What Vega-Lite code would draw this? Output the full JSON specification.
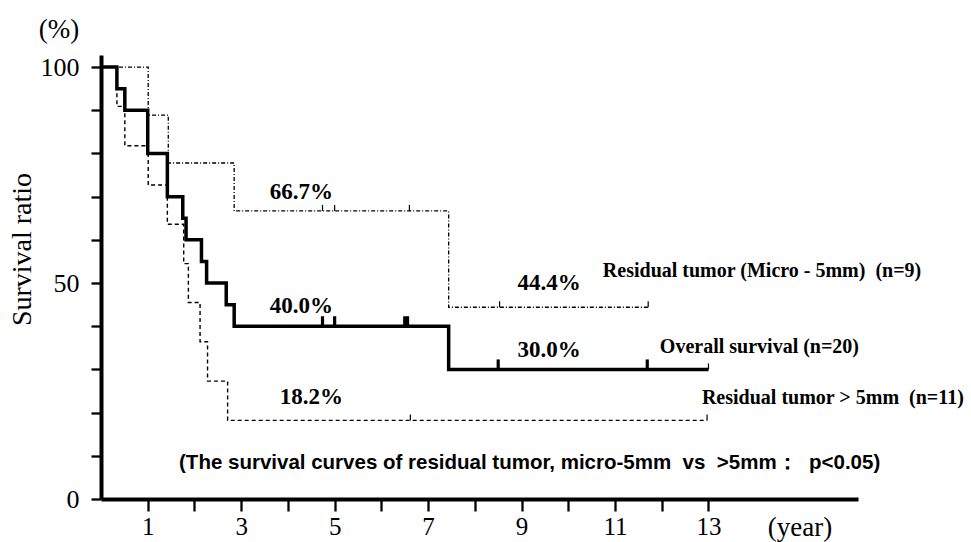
{
  "$schema": "https://vega.github.io/schema/vega-lite/v6.json",
  "width": 757,
  "height": 444,
  "autosize": {"type": "none"},
  "padding": {"left": 101, "top": 55, "right": 113, "bottom": 43},
  "background": "white",
  "config": {"view": {"stroke": null}},
  "datasets": {
    "curves": [
      {"series": "overall", "t": 0, "s": 100},
      {"series": "overall", "t": 0.34, "s": 95},
      {"series": "overall", "t": 0.51, "s": 90},
      {"series": "overall", "t": 1.0, "s": 80},
      {"series": "overall", "t": 1.42, "s": 70},
      {"series": "overall", "t": 1.75, "s": 65},
      {"series": "overall", "t": 1.82, "s": 60},
      {"series": "overall", "t": 2.15, "s": 55},
      {"series": "overall", "t": 2.26, "s": 50},
      {"series": "overall", "t": 2.68, "s": 45},
      {"series": "overall", "t": 2.85, "s": 40},
      {"series": "overall", "t": 7.44, "s": 30},
      {"series": "overall", "t": 13.0, "s": 30},
      {"series": "micro", "t": 0, "s": 100},
      {"series": "micro", "t": 1.01, "s": 88.9},
      {"series": "micro", "t": 1.44, "s": 77.8},
      {"series": "micro", "t": 2.85, "s": 66.7},
      {"series": "micro", "t": 7.44, "s": 44.4},
      {"series": "micro", "t": 11.71, "s": 44.4},
      {"series": "gt5", "t": 0, "s": 100},
      {"series": "gt5", "t": 0.34, "s": 90.9},
      {"series": "gt5", "t": 0.51, "s": 81.8},
      {"series": "gt5", "t": 1.01, "s": 72.7},
      {"series": "gt5", "t": 1.42, "s": 63.6},
      {"series": "gt5", "t": 1.77, "s": 54.5},
      {"series": "gt5", "t": 1.87, "s": 45.5},
      {"series": "gt5", "t": 2.12, "s": 36.4},
      {"series": "gt5", "t": 2.28, "s": 27.3},
      {"series": "gt5", "t": 2.71, "s": 18.2},
      {"series": "gt5", "t": 12.97, "s": 18.2}
    ],
    "censor": [
      {"series": "overall", "t": 4.74, "s": 40},
      {"series": "overall", "t": 5.0, "s": 40},
      {"series": "overall", "t": 6.5, "s": 40},
      {"series": "overall", "t": 6.56, "s": 40},
      {"series": "overall", "t": 8.5, "s": 30},
      {"series": "overall", "t": 11.69, "s": 30},
      {"series": "micro", "t": 4.74, "s": 66.7},
      {"series": "micro", "t": 5.0, "s": 66.7},
      {"series": "micro", "t": 6.6, "s": 66.7},
      {"series": "micro", "t": 8.53, "s": 44.4},
      {"series": "micro", "t": 11.71, "s": 44.4},
      {"series": "gt5", "t": 6.62, "s": 18.2},
      {"series": "gt5", "t": 12.97, "s": 18.2},
      {"series": "overall", "t": 13.0, "s": 30}
    ],
    "pct": [
      {"t": 4.29, "s": 71.1, "label": "66.7%"},
      {"t": 4.29, "s": 44.6, "label": "40.0%"},
      {"t": 4.5, "s": 23.6, "label": "18.2%"},
      {"t": 9.59, "s": 50.1, "label": "44.4%"},
      {"t": 9.59, "s": 34.5, "label": "30.0%"}
    ],
    "legend": [
      {"t": 10.74, "s": 52.9, "label": "Residual tumor (Micro - 5mm)\u00a0 (n=9)"},
      {"t": 11.96, "s": 35.3, "label": "Overall survival (n=20)"},
      {"t": 12.86, "s": 23.3, "label": "Residual tumor > 5mm\u00a0 (n=11)"}
    ],
    "note": [
      {"t": 1.67, "s": 8.3, "label": "(The survival curves of residual tumor, micro-5mm\u00a0 vs\u00a0 >5mm：\u00a0 p<0.05)"}
    ],
    "units": [
      {"t": -0.9, "s": 108.5, "label": "(%)"},
      {"t": 14.96, "s": -6.6, "label": "(year)"}
    ]
  },
  "layer": [
    {
      "data": {"name": "curves"},
      "transform": [{"filter": "datum.series === 'micro'"}],
      "mark": {"type": "line", "interpolate": "step-after", "color": "black", "strokeWidth": 1.3, "strokeDash": [4, 2, 1, 2]},
      "encoding": {
        "x": {
          "field": "t", "type": "quantitative",
          "scale": {"domain": [0, 16.2], "nice": false, "zero": false},
          "axis": {
            "values": [1, 2, 3, 4, 5, 6, 7, 8, 9, 10, 11, 12, 13],
            "labelExpr": "datum.value % 2 === 1 ? datum.label : ''",
            "title": null, "grid": false,
            "domainColor": "black", "domainWidth": 4,
            "tickColor": "black", "tickWidth": 2.3, "tickSize": 12,
            "labelFont": "Liberation Serif", "labelFontSize": 25, "labelColor": "black",
            "labelPadding": 3, "labelFlush": false, "labelOverlap": false
          }
        },
        "y": {
          "field": "s", "type": "quantitative",
          "scale": {"domain": [0, 102.8], "nice": false},
          "axis": {
            "values": [0, 10, 20, 30, 40, 50, 60, 70, 80, 90, 100],
            "labelExpr": "datum.value % 50 === 0 ? datum.label : ''",
            "title": "Survival ratio",
            "titleFont": "Liberation Serif", "titleFontSize": 28, "titleFontWeight": "normal", "titleColor": "black",
            "titleX": -79, "titleY": 194, "titleAngle": -90, "titleAlign": "center", "titleBaseline": "middle",
            "grid": false,
            "domainColor": "black", "domainWidth": 4,
            "tickColor": "black", "tickWidth": 2.3, "tickSize": 10,
            "labelFont": "Liberation Serif", "labelFontSize": 26, "labelColor": "black",
            "labelPadding": 12, "labelFlush": false, "labelOverlap": false
          }
        }
      }
    },
    {
      "data": {"name": "curves"},
      "transform": [{"filter": "datum.series === 'gt5'"}],
      "mark": {"type": "line", "interpolate": "step-after", "color": "black", "strokeWidth": 1.4, "strokeDash": [4, 3]},
      "encoding": {"x": {"field": "t", "type": "quantitative"}, "y": {"field": "s", "type": "quantitative"}}
    },
    {
      "data": {"name": "curves"},
      "transform": [{"filter": "datum.series === 'overall'"}],
      "mark": {"type": "line", "interpolate": "step-after", "color": "black", "strokeWidth": 3.5},
      "encoding": {"x": {"field": "t", "type": "quantitative"}, "y": {"field": "s", "type": "quantitative"}}
    },
    {
      "data": {"name": "censor"},
      "transform": [{"filter": "datum.series === 'overall' && datum.t < 12.9"}],
      "mark": {"type": "tick", "orient": "vertical", "color": "black", "size": 10, "thickness": 3.2, "yOffset": -5, "opacity": 1},
      "encoding": {"x": {"field": "t", "type": "quantitative"}, "y": {"field": "s", "type": "quantitative"}}
    },
    {
      "data": {"name": "censor"},
      "transform": [{"filter": "datum.series !== 'overall' || datum.t > 12.9"}],
      "mark": {"type": "tick", "orient": "vertical", "color": "black", "size": 6, "thickness": 1.2, "yOffset": -3, "opacity": 1},
      "encoding": {"x": {"field": "t", "type": "quantitative"}, "y": {"field": "s", "type": "quantitative"}}
    },
    {
      "data": {"name": "pct"},
      "mark": {"type": "text", "font": "Liberation Serif", "fontSize": 23, "fontWeight": "bold", "color": "black", "align": "center", "baseline": "middle"},
      "encoding": {"x": {"field": "t", "type": "quantitative"}, "y": {"field": "s", "type": "quantitative"}, "text": {"field": "label"}}
    },
    {
      "data": {"name": "legend"},
      "mark": {"type": "text", "font": "Liberation Serif", "fontSize": 20, "fontWeight": "bold", "color": "black", "align": "left", "baseline": "middle"},
      "encoding": {"x": {"field": "t", "type": "quantitative"}, "y": {"field": "s", "type": "quantitative"}, "text": {"field": "label"}}
    },
    {
      "data": {"name": "note"},
      "mark": {"type": "text", "font": "Liberation Sans", "fontSize": 20.5, "fontWeight": "bold", "color": "black", "align": "left", "baseline": "middle"},
      "encoding": {"x": {"field": "t", "type": "quantitative"}, "y": {"field": "s", "type": "quantitative"}, "text": {"field": "label"}}
    },
    {
      "data": {"name": "units"},
      "mark": {"type": "text", "font": "Liberation Serif", "fontSize": 27, "color": "black", "align": "center", "baseline": "middle"},
      "encoding": {"x": {"field": "t", "type": "quantitative"}, "y": {"field": "s", "type": "quantitative"}, "text": {"field": "label"}}
    }
  ]
}
